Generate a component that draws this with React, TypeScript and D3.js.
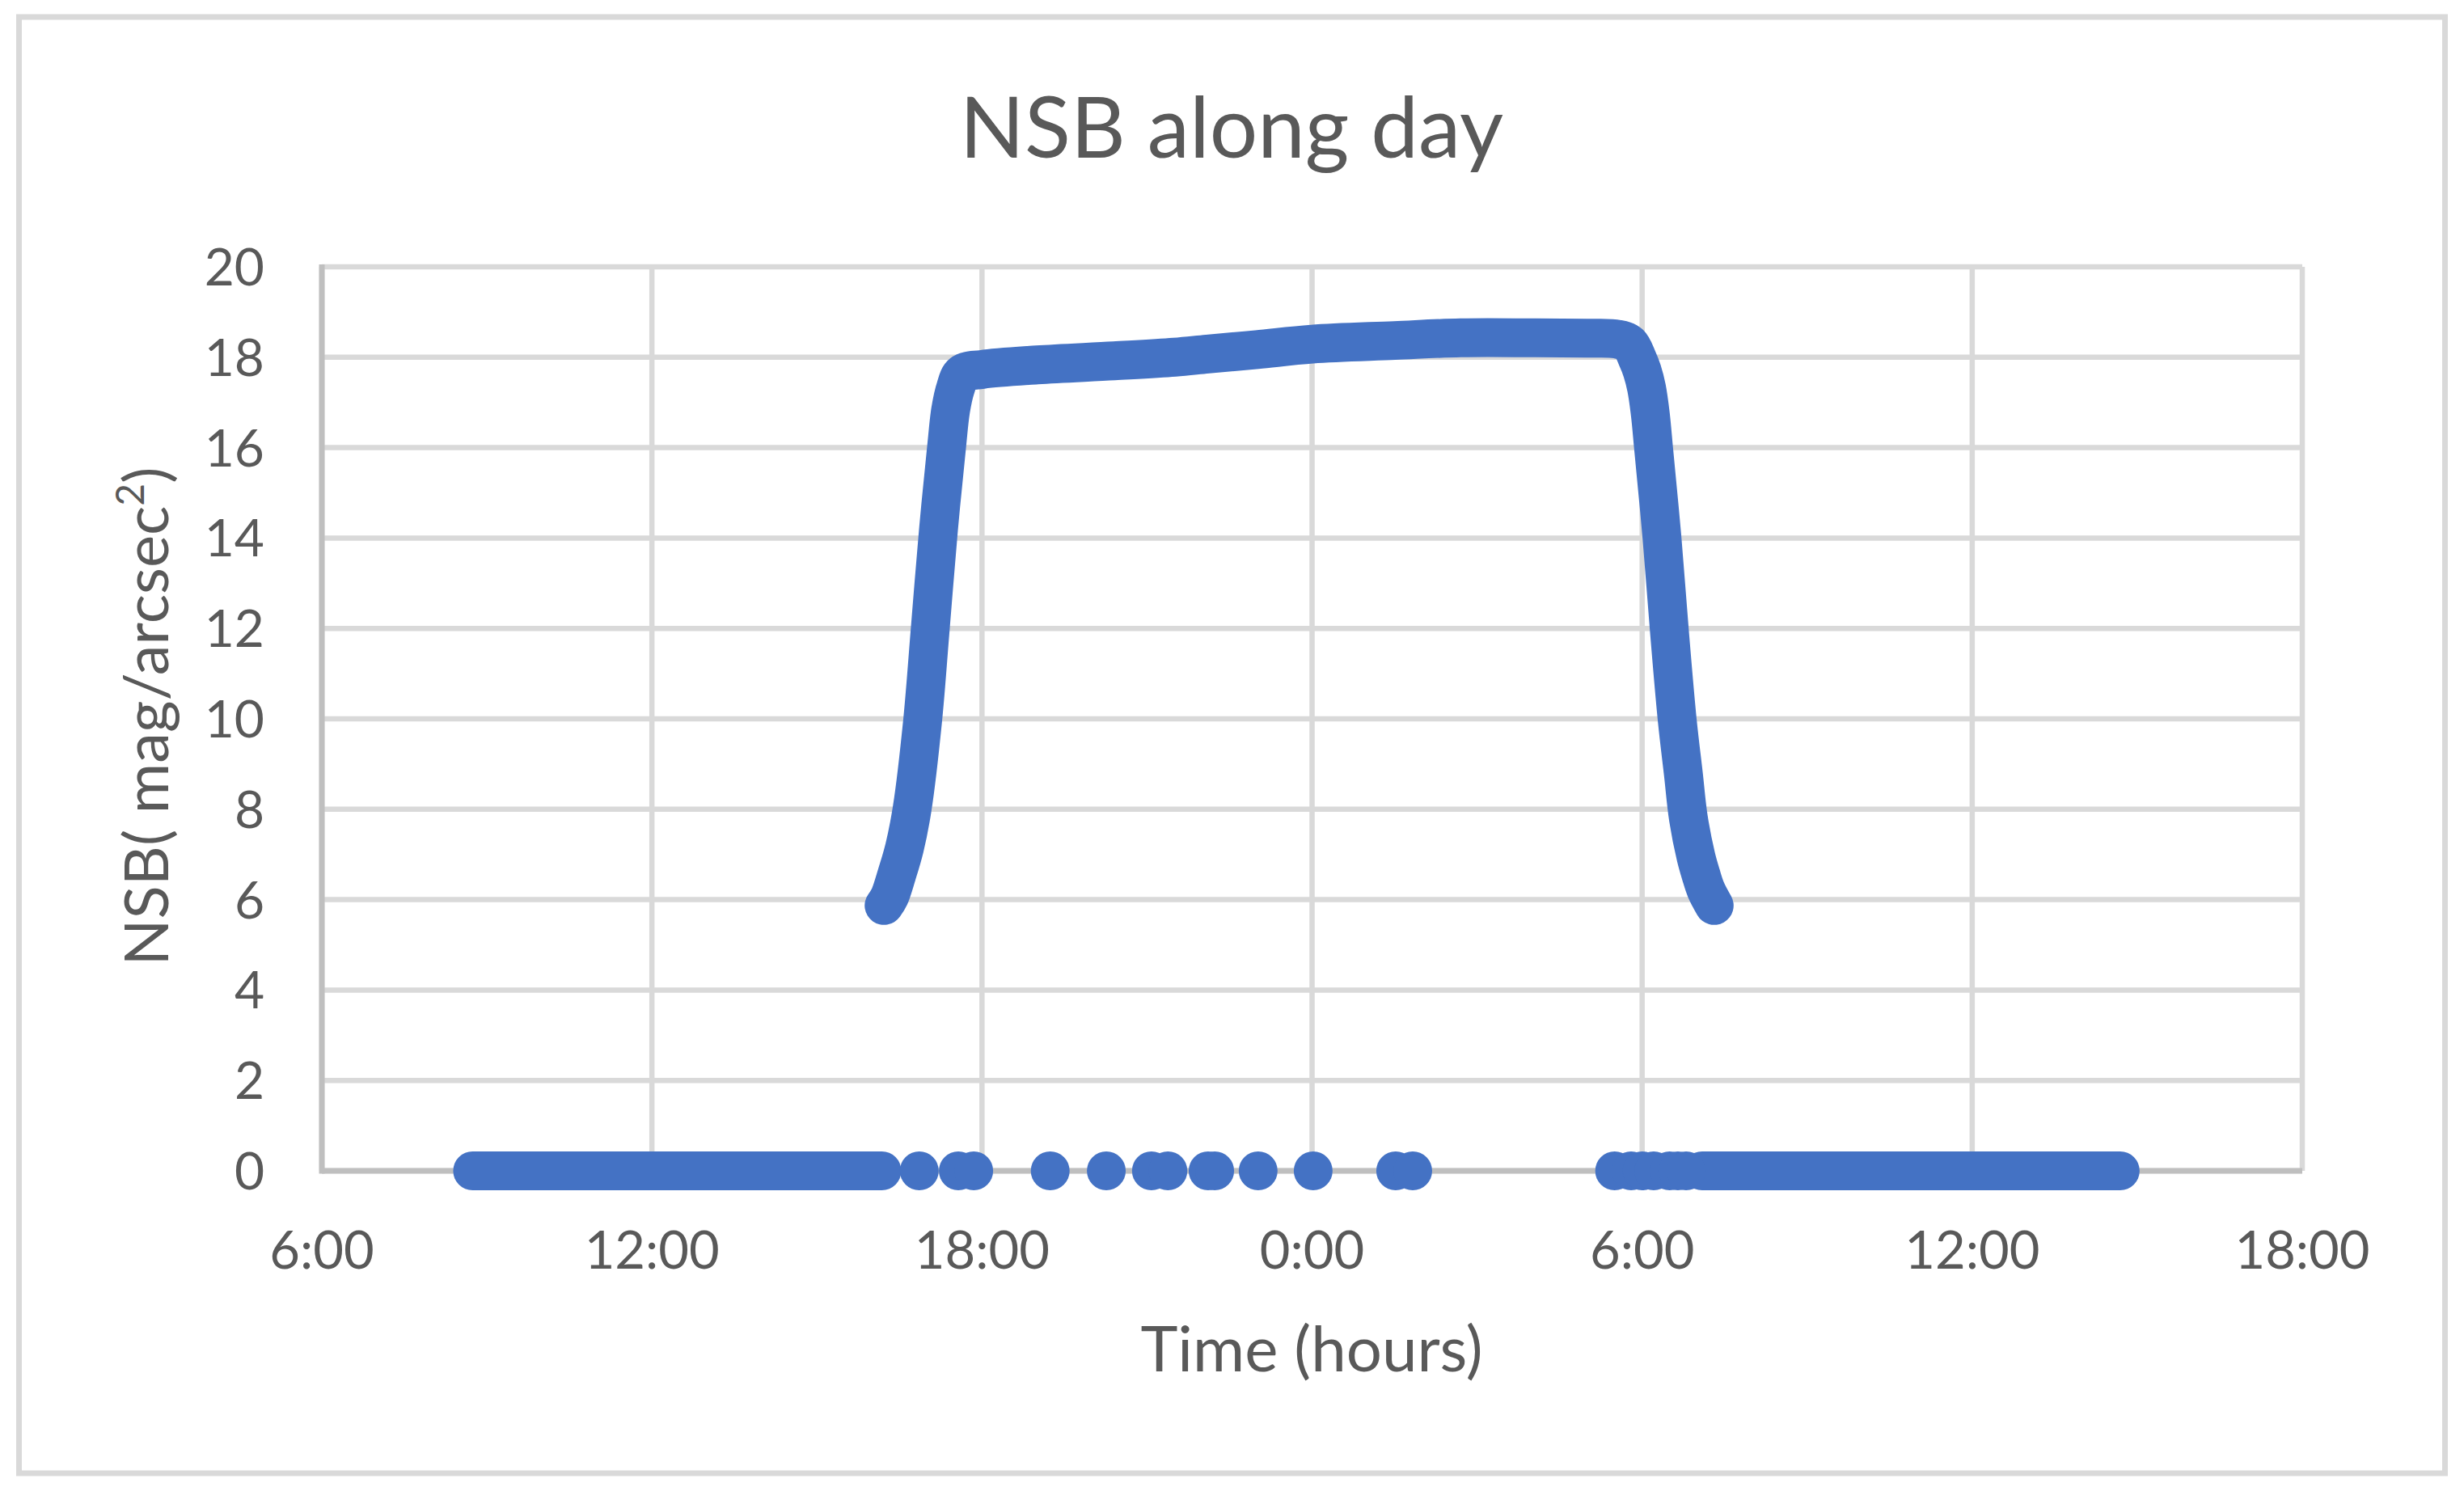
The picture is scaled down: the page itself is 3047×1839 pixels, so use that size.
import React from "react";
import * as d3 from "d3";

// hours since midnight of day 1 (values past 24 are the next morning)
const nightTimes = [16.22, 16.32, 16.45, 16.59, 16.73, 16.92, 17.06, 17.21, 17.36, 17.43, 17.52, 17.64, 18.0, 19.0, 20.4, 21.5, 22.1, 23.0, 24.0, 25.5, 26.7, 28.0, 29.0, 29.55, 29.77, 29.92, 30.0, 30.08, 30.15, 30.21, 30.36, 30.5, 30.64, 30.75, 30.84, 30.98, 31.07, 31.16, 31.31];
const nightNSB = [5.87, 6.07, 6.55, 7.14, 8.01, 9.95, 12.0, 14.2, 16.06, 16.83, 17.32, 17.64, 17.73, 17.83, 17.92, 18.0, 18.07, 18.17, 18.29, 18.37, 18.43, 18.43, 18.42, 18.4, 18.3, 17.95, 17.7, 17.32, 16.73, 15.96, 14.02, 11.88, 9.95, 8.78, 7.81, 6.94, 6.55, 6.22, 5.87];

// daytime readings at 0 : dense stretches (start, end) and single readings
const zeroRuns = [
  [8.74, 16.18],
  [31.09, 38.69],
];
const zeroPoints = [16.86, 17.57, 17.85, 19.24, 20.26, 21.08, 21.38, 22.11, 22.23, 23.02, 24.02, 25.52, 25.83, 29.5, 29.8, 30.0, 30.21, 30.5, 30.65, 30.8];

const xTicks = [6, 12, 18, 24, 30, 36, 42];
const yTicks = [0, 2, 4, 6, 8, 10, 12, 14, 16, 18, 20];

const W = 3047;
const H = 1839;
const margin = { top: 330, right: 200, bottom: 391, left: 398 };
const blue = "#4472c4";
const textColor = "#595959";
const font = "Lato, 'Open Sans', sans-serif";

export default function App() {
  const x = d3
    .scaleLinear()
    .domain([6, 42])
    .range([margin.left, W - margin.right]);
  const y = d3
    .scaleLinear()
    .domain([0, 20])
    .range([H - margin.bottom, margin.top]);

  const pts: [number, number][] = nightTimes.map((t, i) => [t, nightNSB[i]]);
  const line = d3
    .line<[number, number]>()
    .x((d) => x(d[0]))
    .y((d) => y(d[1]))
    .curve(d3.curveCatmullRom.alpha(0.5));

  const fmt = (h: number) => `${h % 24}:00`;
  const r = 24;

  return (
    <div style={{ position: "absolute", left: 0, top: 0 }}>
      <svg width={W} height={H} style={{ display: "block", background: "#fff" }}>
        <rect x={23.5} y={21} width={3000} height={1801} fill="#fff" stroke="#d9d9d9" strokeWidth={7} />

        <text x={1523} y={195} textAnchor="middle" fontFamily={font} fontSize={105} fill={textColor}>
          NSB along day
        </text>

        {/* gridlines */}
        {yTicks.map((t) => (
          <line key={"gy" + t} x1={x(6)} x2={x(42)} y1={y(t)} y2={y(t)} stroke="#d9d9d9" strokeWidth={6.5} />
        ))}
        {xTicks.map((t) => (
          <line key={"gx" + t} x1={x(t)} x2={x(t)} y1={y(0)} y2={y(20)} stroke="#d9d9d9" strokeWidth={6.5} />
        ))}
        {/* axes */}
        <line x1={x(6)} x2={x(42)} y1={y(0)} y2={y(0)} stroke="#bfbfbf" strokeWidth={7} />
        <line x1={x(6)} x2={x(6)} y1={y(0) + 3.5} y2={y(20) - 3} stroke="#bfbfbf" strokeWidth={7} />

        {/* tick labels */}
        {yTicks.map((t) => (
          <text key={"ly" + t} x={327} y={y(t)} dy="0.36em" textAnchor="end" fontFamily={font} fontSize={64} fill={textColor}>
            {t}
          </text>
        ))}
        {xTicks.map((t) => (
          <text key={"lx" + t} x={x(t)} y={1569} textAnchor="middle" fontFamily={font} fontSize={65} fill={textColor}>
            {fmt(t)}
          </text>
        ))}

        {/* axis titles */}
        <text x={1622} y={1696} textAnchor="middle" fontFamily={font} fontSize={78} fill={textColor}>
          Time (hours)
        </text>
        <text
          transform={`translate(208, ${886}) rotate(-90)`}
          textAnchor="middle"
          fontFamily={font}
          fontSize={76}
          fill={textColor}
        >
          NSB( mag/arcsec
          <tspan fontSize={48} dy={-30}>2</tspan>
          <tspan dy={30}>)</tspan>
        </text>

        {/* data */}
        {zeroRuns.map((d, i) => (
          <line
            key={"run" + i}
            x1={x(d[0])}
            x2={x(d[1])}
            y1={y(0)}
            y2={y(0)}
            stroke={blue}
            strokeWidth={r * 2}
            strokeLinecap="round"
          />
        ))}
        {zeroPoints.map((t, i) => (
          <circle key={"z" + i} cx={x(t)} cy={y(0)} r={r} fill={blue} />
        ))}
        <path d={line(pts) || ""} fill="none" stroke={blue} strokeWidth={r * 2} strokeLinecap="round" strokeLinejoin="round" />
      </svg>
    </div>
  );
}
